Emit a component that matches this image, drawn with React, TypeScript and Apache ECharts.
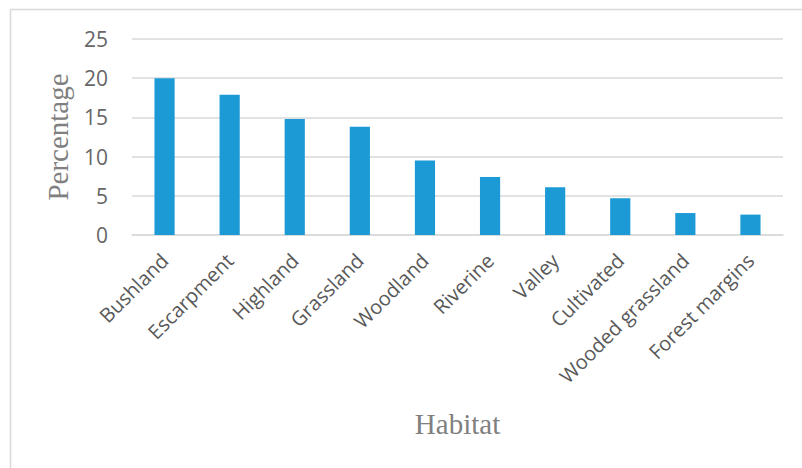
import React, { useEffect, useRef } from "react";
import * as echarts from "echarts";

const categories = [
  "Bushland",
  "Escarpment",
  "Highland",
  "Grassland",
  "Woodland",
  "Riverine",
  "Valley",
  "Cultivated",
  "Wooded grassland",
  "Forest margins",
];
const percentages = [20.0, 17.9, 14.8, 13.8, 9.5, 7.4, 6.1, 4.7, 2.8, 2.6];
const yTicks = { min: 0, max: 25, interval: 5 };

export default function App() {
  const ref = useRef<HTMLDivElement>(null);
  useEffect(() => {
    if (!ref.current) return;
    const chart = echarts.init(ref.current, null, { renderer: "svg" });
    chart.setOption({
      animation: false,
      backgroundColor: "#ffffff",
      graphic: [
        {
          type: "rect",
          shape: { x: 10.5, y: 9.5, width: 820, height: 480 },
          style: { fill: "none", stroke: "#d9d9d9", lineWidth: 1.5 },
          silent: true,
        },
      ],
      grid: { left: 132, right: 19, top: 39, bottom: 233, containLabel: false },
      xAxis: {
        type: "category",
        data: categories,
        axisLine: { show: true, lineStyle: { color: "#d9d9d9", width: 1.5 } },
        axisTick: { show: false },
        axisLabel: {
          rotate: 45,
          interval: 0,
          margin: 22,
          color: "#595959",
          fontFamily: "Open Sans",
          fontSize: 20,
        },
        name: "Habitat",
        nameLocation: "middle",
        nameGap: 174,
        nameTextStyle: {
          fontFamily: "Liberation Serif",
          fontSize: 29,
          color: "#808080",
        },
      },
      yAxis: {
        type: "value",
        min: yTicks.min,
        max: yTicks.max,
        interval: yTicks.interval,
        axisLine: { show: false },
        axisTick: { show: false },
        splitLine: { lineStyle: { color: "#d9d9d9", width: 1.5 } },
        axisLabel: {
          margin: 24,
          color: "#666666",
          fontFamily: "Open Sans",
          fontSize: 21,
        },
        name: "Percentage",
        nameLocation: "middle",
        nameGap: 60,
        nameTextStyle: {
          fontFamily: "Liberation Serif",
          fontSize: 29,
          color: "#808080",
        },
      },
      series: [
        {
          type: "bar",
          data: percentages,
          barWidth: "31%",
          itemStyle: { color: "#1c9ad6" },
        },
      ],
    });
    return () => chart.dispose();
  }, []);
  return (
    <div
      ref={ref}
      style={{ position: "fixed", left: 0, top: 0, width: 802, height: 468 }}
    />
  );
}
